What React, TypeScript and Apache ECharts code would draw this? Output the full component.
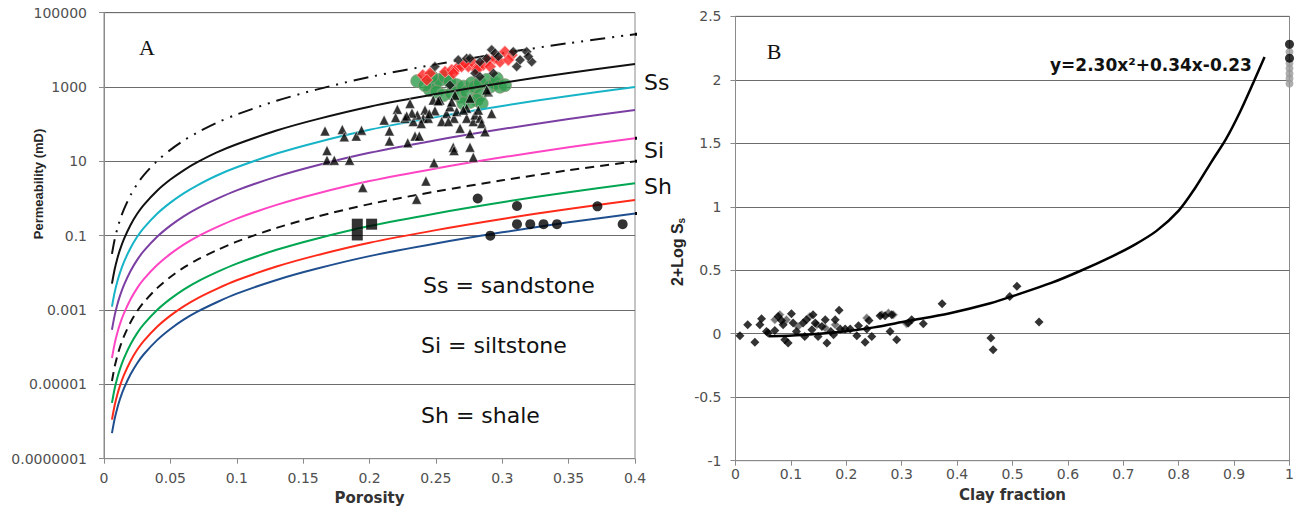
import React, { useEffect, useRef } from "react";
import * as echarts from "echarts";

// ---------- Panel A: porosity vs permeability ----------
// permeability values are stored as log10(mD)
const LOG_OFFSET = 7; // plotted value = log10(k) + 7  (axis 0..12)
const LEFT_Y_TICKS = ["0.0000001", "0.00001", "0.001", "0.1", "10", "1000", "100000"];

const POROSITY = [0.006, 0.008, 0.01, 0.012, 0.015, 0.02, 0.025, 0.03, 0.04, 0.05, 0.06, 0.07, 0.085, 0.1, 0.13, 0.16, 0.2, 0.25, 0.3, 0.35, 0.4];

const LOG_K_DASHDOT = [-1.49, -1.11, -0.82, -0.58, -0.29, 0.09, 0.39, 0.63, 1.01, 1.31, 1.56, 1.77, 2.04, 2.26, 2.63, 2.93, 3.27, 3.61, 3.91, 4.18, 4.42];
const LOG_K_BLACK = [-2.29, -1.91, -1.62, -1.38, -1.09, -0.71, -0.41, -0.17, 0.21, 0.51, 0.76, 0.97, 1.24, 1.46, 1.83, 2.13, 2.47, 2.81, 3.11, 3.38, 3.62];
const LOG_K_CYAN = [-2.91, -2.53, -2.24, -2.0, -1.71, -1.33, -1.03, -0.79, -0.41, -0.11, 0.14, 0.35, 0.62, 0.84, 1.21, 1.51, 1.85, 2.19, 2.49, 2.76, 3.0];
const LOG_K_PURPLE = [-3.53, -3.15, -2.86, -2.62, -2.33, -1.95, -1.65, -1.41, -1.03, -0.73, -0.48, -0.27, -0.01, 0.22, 0.59, 0.89, 1.23, 1.57, 1.87, 2.14, 2.38];
const LOG_K_PINK = [-4.29, -3.91, -3.62, -3.38, -3.09, -2.71, -2.41, -2.17, -1.79, -1.49, -1.24, -1.03, -0.77, -0.54, -0.17, 0.13, 0.47, 0.81, 1.11, 1.38, 1.62];
const LOG_K_DASHED = [-4.91, -4.53, -4.24, -4.0, -3.71, -3.33, -3.03, -2.79, -2.41, -2.11, -1.86, -1.65, -1.39, -1.16, -0.79, -0.49, -0.15, 0.19, 0.49, 0.76, 1.0];
const LOG_K_GREEN = [-5.5, -5.12, -4.83, -4.59, -4.3, -3.92, -3.62, -3.38, -3.0, -2.7, -2.45, -2.24, -1.98, -1.75, -1.38, -1.08, -0.74, -0.4, -0.1, 0.17, 0.41];
const LOG_K_RED = [-5.95, -5.57, -5.28, -5.04, -4.75, -4.37, -4.07, -3.83, -3.45, -3.15, -2.9, -2.69, -2.43, -2.2, -1.83, -1.53, -1.19, -0.85, -0.55, -0.28, -0.04];
const LOG_K_BLUE = [-6.31, -5.93, -5.64, -5.4, -5.11, -4.73, -4.43, -4.19, -3.81, -3.51, -3.26, -3.05, -2.79, -2.56, -2.19, -1.89, -1.55, -1.21, -0.91, -0.64, -0.4];

// scatter points: [porosity, log10 k]
const TRIANGLES = [
  [0.1665, 1.82], [0.1795, 1.86], [0.181, 1.66], [0.19, 1.68], [0.194, 1.84], [0.168, 1.29], [0.168, 1.03], [0.1735, 1.03], [0.185, 1.03],
  [0.211, 2.11], [0.215, 1.82], [0.215, 1.55], [0.221, 2.4], [0.2197, 2.18], [0.2305, 2.56], [0.2267, 2.16], [0.233, 2.07], [0.2343, 1.68],
  [0.2375, 1.68], [0.2288, 1.5], [0.2418, 2.38], [0.2405, 2.16], [0.2443, 2.16], [0.248, 2.65], [0.2493, 2.36], [0.253, 2.65], [0.258, 2.29],
  [0.2544, 2.07], [0.2606, 2.47], [0.2644, 2.78], [0.2637, 2.16], [0.2657, 2.34], [0.2682, 1.89], [0.2732, 2.43], [0.2757, 2.7], [0.2732, 2.16],
  [0.2782, 2.07], [0.2795, 2.25], [0.2832, 2.16], [0.2845, 2.02], [0.2757, 1.75], [0.287, 1.8], [0.2895, 2.87], [0.292, 2.29], [0.2631, 1.38],
  [0.2637, 1.29], [0.2757, 1.38], [0.2782, 1.11], [0.2486, 0.96], [0.2518, 2.63], [0.2594, 2.07], [0.2619, 2.6], [0.2707, 2.38], [0.282, 2.38],
  [0.2425, 0.47], [0.2355, -0.02], [0.1949, 0.3], [0.2883, 2.92], [0.236, 2.25], [0.232, 2.3], [0.239, 2.02], [0.245, 2.28], [0.228, 2.22],
];
const GREEN_CIRCLES = [
  [0.236, 3.16], [0.2456, 2.92], [0.2493, 3.1], [0.2531, 3.19], [0.2569, 3.28], [0.2506, 2.87], [0.2556, 2.78], [0.2619, 2.83], [0.2657, 3.05],
  [0.2707, 3.01], [0.2682, 2.74], [0.2732, 2.87], [0.277, 3.1], [0.2795, 3.01], [0.2832, 3.1], [0.2832, 2.78], [0.2883, 3.19], [0.2908, 3.01],
  [0.2945, 3.1], [0.2958, 3.23], [0.2983, 3.01], [0.302, 3.05], [0.2808, 2.65], [0.2757, 2.6], [0.2845, 2.56], [0.2707, 2.56], [0.2606, 3.14],
  [0.2418, 3.05], [0.2468, 3.28],
];
const RED_DIAMONDS = [
  [0.2401, 3.32], [0.2456, 3.37], [0.2431, 3.19], [0.2569, 3.41], [0.2619, 3.46], [0.2657, 3.5], [0.2694, 3.55], [0.2744, 3.55], [0.2782, 3.64],
  [0.282, 3.55], [0.2857, 3.59], [0.2895, 3.73], [0.2945, 3.77], [0.2983, 3.68], [0.2908, 3.55], [0.302, 3.95], [0.3071, 3.86], [0.3046, 3.73],
  [0.2632, 3.37], [0.2808, 3.46], [0.272, 3.64],
];
const BLACK_DIAMONDS = [
  [0.2493, 3.55], [0.2606, 3.05], [0.2669, 3.73], [0.2732, 3.77], [0.2832, 3.68], [0.292, 4.0], [0.2945, 3.91], [0.297, 3.82], [0.3083, 3.95],
  [0.3109, 3.55], [0.3134, 3.73], [0.3184, 3.95], [0.3222, 3.68], [0.3196, 3.82], [0.2795, 3.37], [0.2933, 3.37], [0.2757, 3.77], [0.2883, 3.77],
  [0.2832, 3.28],
];
const SQUARES = [[0.1908, -0.69], [0.2016, -0.69], [0.1908, -0.98]];
const BLACK_CIRCLES = [
  [0.2815, 0.0], [0.3111, -0.2], [0.3111, -0.69], [0.3211, -0.69], [0.3311, -0.69], [0.3412, -0.69], [0.291, -1.0], [0.3717, -0.21], [0.3907, -0.69],
];

// ---------- Panel B: clay fraction vs 2+log Ss ----------
const CLAY_POINTS = [
  [0.008, -0.016], [0.022, 0.071], [0.035, -0.068], [0.044, 0.071], [0.047, 0.118], [0.056, 0.018], [0.059, 0.005], [0.071, 0.026], [0.077, 0.136],
  [0.083, 0.105], [0.086, 0.071], [0.089, -0.047], [0.095, -0.073], [0.101, 0.157], [0.104, 0.084], [0.11, 0.018], [0.122, 0.084], [0.125, -0.021],
  [0.128, 0.11], [0.138, 0.031], [0.14, 0.15], [0.144, 0.084], [0.149, -0.021], [0.156, 0.057], [0.162, 0.11], [0.165, -0.073], [0.172, 0.018],
  [0.177, -0.008], [0.18, 0.11], [0.187, 0.184], [0.189, 0.037], [0.198, 0.037], [0.207, 0.037], [0.219, -0.016], [0.222, 0.063], [0.234, -0.068],
  [0.237, 0.037], [0.241, 0.105], [0.246, -0.021], [0.261, 0.142], [0.27, 0.142], [0.279, 0.018], [0.282, 0.15], [0.291, -0.047], [0.312, 0.084],
  [0.318, 0.11], [0.339, 0.079], [0.373, 0.236], [0.461, -0.034], [0.465, -0.126], [0.495, 0.294], [0.508, 0.373], [0.548, 0.092],
];
const CLAY_POINTS_LIGHT = [
  [0.071, 0.11], [0.08, 0.15], [0.092, 0.11], [0.113, 0.057], [0.134, 0.136], [0.147, 0.071], [0.162, 0.045], [0.18, 0.071], [0.237, 0.124],
  [0.264, 0.15], [0.276, 0.163], [0.285, 0.15], [0.309, 0.079],
];
const CLAY_FIT = [
  [0.06, -0.02], [0.12, -0.01], [0.2, 0.02], [0.25, 0.05], [0.31, 0.1], [0.385, 0.16], [0.46, 0.24], [0.51, 0.31], [0.57, 0.4], [0.62, 0.49],
  [0.68, 0.61], [0.72, 0.7], [0.76, 0.81], [0.8, 0.97], [0.83, 1.15], [0.86, 1.36], [0.885, 1.53], [0.91, 1.74], [0.935, 1.98], [0.955, 2.18],
];
const CLAY_ONE_GREY = [[1, 2.22], [1, 2.13], [1, 2.09], [1, 2.05], [1, 2.01], [1, 1.97]];
const CLAY_ONE_DARK = [[1, 2.28], [1, 2.17]];

const SANS = "DejaVu Sans";
const ARIAL = "Liberation Sans";
const AXIS_COLOR = "#8a8a8a";
const GRID_COLOR = "#6c6c6c";
const LABEL_COLOR = "#505050";

const toA = (pts: number[][]) => pts.map(([p, k]) => [p, k + LOG_OFFSET]);
const curve = (logK: number[]) => POROSITY.map((p, i) => [p, logK[i] + LOG_OFFSET]);

function buildOption() {
  const curveDefs: { data: number[]; color: string; type: any }[] = [
    { data: LOG_K_DASHDOT, color: "#111111", type: [15, 7, 2, 7, 2, 7] },
    { data: LOG_K_BLACK, color: "#111111", type: "solid" },
    { data: LOG_K_CYAN, color: "#17b4c8", type: "solid" },
    { data: LOG_K_PURPLE, color: "#7b3fa3", type: "solid" },
    { data: LOG_K_PINK, color: "#ff45c4", type: "solid" },
    { data: LOG_K_DASHED, color: "#111111", type: [9, 6] },
    { data: LOG_K_GREEN, color: "#00a651", type: "solid" },
    { data: LOG_K_RED, color: "#ff2a1a", type: "solid" },
    { data: LOG_K_BLUE, color: "#1f4f8f", type: "solid" },
  ];
  // range markers beyond the right border (extend selected curves)
  const markerDefs: { data: number[]; to: number }[] = [
    { data: LOG_K_DASHDOT, to: 0.428 },
    { data: LOG_K_PINK, to: 0.411 },
    { data: LOG_K_DASHED, to: 0.411 },
    { data: LOG_K_BLUE, to: 0.428 },
  ];

  const series: any[] = [];
  series.push({
    type: "scatter", xAxisIndex: 0, yAxisIndex: 0, z: 1, symbol: "circle", symbolSize: 13,
    data: toA(GREEN_CIRCLES),
    itemStyle: { color: "#2e9c4e", borderColor: "#8d9a7c", borderWidth: 1 },
  });
  curveDefs.forEach((c) =>
    series.push({
      type: "line", xAxisIndex: 0, yAxisIndex: 0, z: 2, showSymbol: false, smooth: 0.3,
      data: curve(c.data),
      lineStyle: { color: c.color, width: 2, type: c.type },
    })
  );
  markerDefs.forEach((m) => {
    const v = m.data[m.data.length - 1] + LOG_OFFSET;
    const x0 = POROSITY[POROSITY.length - 1];
    series.push({
      type: "line", xAxisIndex: 0, yAxisIndex: 0, z: 2, showSymbol: false, clip: false,
      data: [[x0, v], [m.to, v]],
      lineStyle: { color: "#000", width: 3 },
    });
  });
  series.push({
    type: "scatter", xAxisIndex: 0, yAxisIndex: 0, z: 3, symbol: "diamond", symbolSize: 12,
    data: toA(RED_DIAMONDS),
    itemStyle: { color: "#ff1f1f", borderColor: "#ffb0b0", borderWidth: 1 },
  });
  series.push({
    type: "scatter", xAxisIndex: 0, yAxisIndex: 0, z: 3, symbol: "diamond", symbolSize: 10,
    data: toA(BLACK_DIAMONDS),
    itemStyle: { color: "#111", borderColor: "#bbbbbb", borderWidth: 0.8 },
  });
  series.push({
    type: "scatter", xAxisIndex: 0, yAxisIndex: 0, z: 3, symbol: "triangle", symbolSize: 10,
    data: toA(TRIANGLES),
    itemStyle: { color: "#000", borderColor: "rgba(255,255,255,0.7)", borderWidth: 0.8 },
  });
  series.push({
    type: "scatter", xAxisIndex: 0, yAxisIndex: 0, z: 3, symbol: "rect", symbolSize: 11,
    data: toA(SQUARES), itemStyle: { color: "#000" },
  });
  series.push({
    type: "scatter", xAxisIndex: 0, yAxisIndex: 0, z: 3, symbol: "circle", symbolSize: 10,
    data: toA(BLACK_CIRCLES), itemStyle: { color: "#000" },
  });

  // panel B
  series.push({
    type: "scatter", xAxisIndex: 1, yAxisIndex: 1, z: 3, symbol: "diamond", symbolSize: 9,
    data: CLAY_POINTS_LIGHT, itemStyle: { color: "#555", borderColor: "#d8d8d8", borderWidth: 1 },
  });
  series.push({
    type: "scatter", xAxisIndex: 1, yAxisIndex: 1, z: 3, symbol: "diamond", symbolSize: 9,
    data: CLAY_POINTS, itemStyle: { color: "#000" },
  });
  series.push({
    type: "line", xAxisIndex: 1, yAxisIndex: 1, z: 4, showSymbol: false, smooth: 0.3,
    data: CLAY_FIT, lineStyle: { color: "#000", width: 2.5 },
  });
  series.push({
    type: "scatter", xAxisIndex: 1, yAxisIndex: 1, z: 3, symbol: "circle", symbolSize: 8, clip: false,
    data: CLAY_ONE_GREY, itemStyle: { color: "#9a9a9a" },
  });
  series.push({
    type: "scatter", xAxisIndex: 1, yAxisIndex: 1, z: 3, symbol: "circle", symbolSize: 9, clip: false,
    data: CLAY_ONE_DARK, itemStyle: { color: "#000" },
  });

  const axisCommon = {
    axisLine: { show: true, onZero: false, lineStyle: { color: AXIS_COLOR, width: 1 } },
    axisTick: { show: true, length: 5, lineStyle: { color: AXIS_COLOR } },
  };

  const txt = (x: number, y: number, text: string, fontSize: number, extra: any = {}) => ({
    type: "text", x, y, silent: true,
    style: { text, fontSize, fontFamily: SANS, fill: "#111", align: "left", verticalAlign: "middle", ...extra },
  });

  return {
    animation: false,
    backgroundColor: "#ffffff",
    grid: [
      { left: 104, top: 12.7, width: 531, height: 446, show: true, borderColor: AXIS_COLOR, borderWidth: 1 },
      { left: 735.5, top: 16.3, width: 554, height: 444.4, show: true, borderColor: AXIS_COLOR, borderWidth: 1 },
    ],
    xAxis: [
      {
        type: "value", gridIndex: 0, min: 0, max: 0.4, interval: 0.05, ...axisCommon,
        splitLine: { show: false },
        axisLabel: { color: LABEL_COLOR, fontSize: 14, fontFamily: SANS, margin: 12 },
        name: "Porosity", nameLocation: "middle", nameGap: 32,
        nameTextStyle: { fontWeight: "bold", fontSize: 15, color: "#333", fontFamily: SANS },
      },
      {
        type: "value", gridIndex: 1, min: 0, max: 1, interval: 0.1, ...axisCommon,
        splitLine: { show: false },
        axisLabel: { color: LABEL_COLOR, fontSize: 14, fontFamily: SANS, margin: 6 },
        name: "Clay fraction", nameLocation: "middle", nameGap: 27,
        nameTextStyle: { fontWeight: "bold", fontSize: 15, color: "#333", fontFamily: SANS },
      },
    ],
    yAxis: [
      {
        type: "value", gridIndex: 0, min: 0, max: 12, interval: 2, ...axisCommon,
        splitLine: { show: true, lineStyle: { color: GRID_COLOR, width: 1 } },
        axisLabel: {
          color: LABEL_COLOR, fontSize: 14, fontFamily: SANS, margin: 17,
          formatter: (v: number) => LEFT_Y_TICKS[Math.round(v / 2)] ?? "",
        },
      },
      {
        type: "value", gridIndex: 1, min: -1, max: 2.5, interval: 0.5, ...axisCommon,
        splitLine: { show: true, lineStyle: { color: GRID_COLOR, width: 1 } },
        axisLabel: { color: LABEL_COLOR, fontSize: 14, fontFamily: SANS, margin: 14 },
      },
    ],
    graphic: [
      { type: "text", x: 147, y: 47, silent: true, style: { text: "A", fontSize: 22, fontFamily: "Liberation Serif", fill: "#111", align: "center", verticalAlign: "middle" } },
      { type: "text", x: 774, y: 51, silent: true, style: { text: "B", fontSize: 22, fontFamily: "Liberation Serif", fill: "#111", align: "center", verticalAlign: "middle" } },
      txt(1050, 65, "y=2.30x²+0.34x-0.23", 17, { fontWeight: "bold" }),
      txt(423, 285, "Ss = sandstone", 22),
      txt(421, 345, "Si = siltstone", 22),
      txt(421, 415, "Sh = shale", 22),
      txt(644, 82, "Ss", 22),
      txt(644, 150, "Si", 22),
      txt(644, 186, "Sh", 22),
      {
        type: "text", x: 38, y: 184, rotation: Math.PI / 2, silent: true,
        style: { text: "Permeability (mD)", fontSize: 13, fontWeight: "bold", fontFamily: ARIAL, fill: "#262626", align: "center", verticalAlign: "middle" },
      },
      {
        type: "text", x: 677, y: 252, rotation: Math.PI / 2, silent: true,
        style: {
          text: "{a|2+Log S}{b|s}", align: "center", verticalAlign: "middle",
          rich: {
            a: { fontSize: 16, fontWeight: "bold", fontFamily: ARIAL, fill: "#262626" },
            b: { fontSize: 10, fontWeight: "bold", fontFamily: ARIAL, fill: "#262626", padding: [8, 0, 0, 0] },
          },
        },
      },
    ],
    series,
  };
}

export default function App() {
  const ref = useRef<HTMLDivElement>(null);
  useEffect(() => {
    document.body.style.margin = "0";
    const chart = echarts.init(ref.current as HTMLDivElement, null, { renderer: "svg" });
    chart.setOption(buildOption() as any);
    return () => chart.dispose();
  }, []);
  return <div ref={ref} style={{ width: 1303, height: 511 }} />;
}
